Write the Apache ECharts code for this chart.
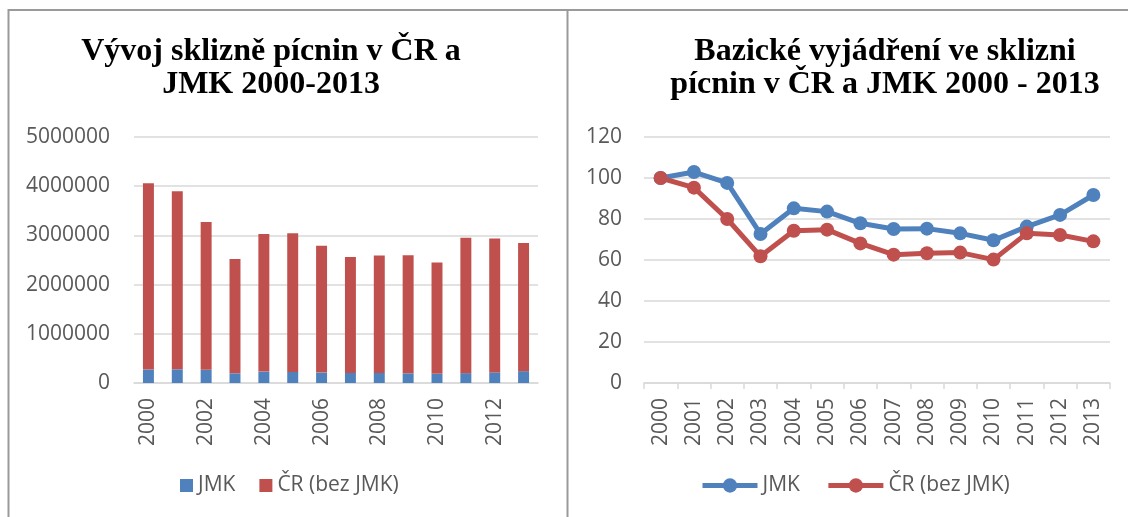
<!DOCTYPE html>
<html>
<head>
<meta charset="utf-8">
<script src="https://cdn.jsdelivr.net/npm/echarts@6/dist/echarts.min.js"></script>
<style>
html,body{margin:0;padding:0;background:#fff;}
#c{width:1128px;height:517px;}
</style>
</head>
<body>
<div id="c"></div>
<script>
// ---- data ----
const years = ['2000','2001','2002','2003','2004','2005','2006','2007','2008','2009','2010','2011','2012','2013'];
const jmkHarvest = [273000, 278000, 268000, 197000, 232000, 226000, 211000, 205000, 205000, 197000, 186000, 200000, 215000, 240000];
const crHarvest = [3788000, 3620000, 3005000, 2322000, 2796000, 2816000, 2579000, 2355000, 2389000, 2398000, 2262000, 2750000, 2721000, 2608000];
const jmkIndex = [100, 102.9, 97.6, 72.7, 85.2, 83.6, 77.9, 75.1, 75.3, 73.0, 69.6, 76.3, 82.0, 91.7];
const crIndex = [100, 95.3, 80.0, 61.8, 74.3, 74.8, 68.1, 62.6, 63.3, 63.6, 60.2, 73.0, 72.2, 69.1];
const leftTitle = 'Vývoj sklizně pícnin v ČR a\nJMK 2000-2013';
const rightTitle = 'Bazické vyjádření ve sklizni\npícnin v ČR a JMK 2000 - 2013';
const seriesNames = {jmk: 'JMK', cr: 'ČR (bez JMK)'};

const BLUE = '#4F81BD', RED = '#C0504D', GRID = '#D9D9D9', TXT = '#595959', FRAME = '#9a9a9a';
const FONT = "'Open Sans', 'Liberation Sans', sans-serif";
const FS = 21;

const labelMap = {
  'JMK': seriesNames.jmk, 'CR': seriesNames.cr,
  'JMK_i': seriesNames.jmk, 'CR_i': seriesNames.cr
};

const chart = echarts.init(document.getElementById('c'), null, {renderer: 'canvas'});

const titleStyle = {fontFamily: "'Liberation Serif', 'Times New Roman', serif", fontWeight: 'bold', fontSize: 32, lineHeight: 33, color: '#000'};

const option = {
  animation: false,
  backgroundColor: '#fff',
  title: [
    {text: leftTitle, left: 271, top: 35, padding: 0, textAlign: 'center', textStyle: titleStyle},
    {text: rightTitle, left: 885, top: 35, padding: 0, textAlign: 'center', textStyle: titleStyle}
  ],
  legend: [
    {
      data: ['JMK', 'CR'], left: 180, top: 475, padding: 0,
      icon: 'rect', itemWidth: 13, itemHeight: 13, itemGap: 24,
      formatter: n => labelMap[n],
      textStyle: {fontFamily: FONT, fontSize: FS, color: TXT}
    },
    {
      data: ['JMK_i', 'CR_i'], left: 700, top: 475, padding: 0,
      itemWidth: 55, itemHeight: 18, itemGap: 26,
      lineStyle: {width: 5},
      formatter: n => labelMap[n],
      textStyle: {fontFamily: FONT, fontSize: FS, color: TXT}
    }
  ],
  grid: [
    {left: 134, right: 590, top: 137, bottom: 134},
    {left: 644, right: 18, top: 137, bottom: 134}
  ],
  xAxis: [
    {
      gridIndex: 0, type: 'category', data: years,
      axisLine: {lineStyle: {color: GRID, width: 1.5}},
      axisTick: {show: false},
      axisLabel: {interval: 1, rotate: 90, margin: 15, fontFamily: FONT, fontSize: FS, color: TXT}
    },
    {
      gridIndex: 1, type: 'category', data: years, boundaryGap: true,
      axisLine: {lineStyle: {color: GRID, width: 1.5}},
      axisTick: {show: true, length: 6, lineStyle: {color: GRID, width: 1.5}},
      axisLabel: {interval: 0, rotate: 90, margin: 15, fontFamily: FONT, fontSize: FS, color: TXT}
    }
  ],
  yAxis: [
    {
      gridIndex: 0, type: 'value', min: 0, max: 5000000, interval: 1000000,
      axisLine: {show: false}, axisTick: {show: false},
      splitLine: {lineStyle: {color: GRID, width: 1.5}},
      axisLabel: {margin: 24, fontFamily: FONT, fontSize: FS, color: TXT, formatter: v => String(v)}
    },
    {
      gridIndex: 1, type: 'value', min: 0, max: 120, interval: 20,
      axisLine: {show: false}, axisTick: {show: false},
      splitLine: {lineStyle: {color: GRID, width: 1.5}},
      axisLabel: {margin: 22, fontFamily: FONT, fontSize: FS, color: TXT, formatter: v => String(v)}
    }
  ],
  series: [
    {name: 'JMK', type: 'bar', stack: 'h', xAxisIndex: 0, yAxisIndex: 0, data: jmkHarvest, barWidth: '38%', itemStyle: {color: BLUE}},
    {name: 'CR', type: 'bar', stack: 'h', xAxisIndex: 0, yAxisIndex: 0, data: crHarvest, barWidth: '38%', itemStyle: {color: RED}},
    {name: 'JMK_i', type: 'line', xAxisIndex: 1, yAxisIndex: 1, data: jmkIndex, symbol: 'circle', symbolSize: 14,
      lineStyle: {color: BLUE, width: 5}, itemStyle: {color: BLUE}},
    {name: 'CR_i', type: 'line', xAxisIndex: 1, yAxisIndex: 1, data: crIndex, symbol: 'circle', symbolSize: 14,
      lineStyle: {color: RED, width: 5}, itemStyle: {color: RED}}
  ],
  graphic: [
    {type: 'line', shape: {x1: 8, y1: 10, x2: 1128, y2: 10}, style: {stroke: FRAME, lineWidth: 2}, silent: true},
    {type: 'line', shape: {x1: 8.5, y1: 9, x2: 8.5, y2: 517}, style: {stroke: FRAME, lineWidth: 2}, silent: true},
    {type: 'line', shape: {x1: 567.5, y1: 9, x2: 567.5, y2: 517}, style: {stroke: FRAME, lineWidth: 2}, silent: true}
  ]
};

chart.setOption(option);
</script>
</body>
</html>
